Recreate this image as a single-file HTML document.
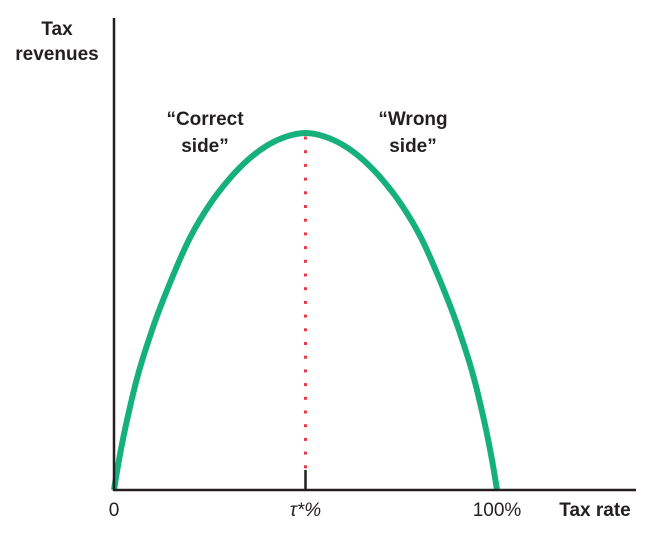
<!DOCTYPE html>
<html><head><meta charset="utf-8"><style>
body{margin:0;background:#fff}
svg text{font-family:"Liberation Sans",sans-serif;fill:#231f20}
.b{font-weight:bold;font-size:19px}
.n{font-size:19px}
</style></head><body>
<svg width="650" height="535">
<g id="marks"></g>
<line x1="114" y1="18" x2="114" y2="491" stroke="#231f20" stroke-width="2.5"/>
<line x1="113" y1="490" x2="636" y2="490" stroke="#231f20" stroke-width="2.5"/>
<text class="b" x="57" y="35" text-anchor="middle">Tax</text>
<text class="b" x="57" y="60" text-anchor="middle">revenues</text>
<text class="b" x="205" y="125" text-anchor="middle">“Correct</text>
<text class="b" x="205" y="152" text-anchor="middle">side”</text>
<text class="b" x="413" y="125" text-anchor="middle">“Wrong</text>
<text class="b" x="413" y="152" text-anchor="middle">side”</text>
<text class="b" x="595" y="516" text-anchor="middle">Tax rate</text>
<g id="ticks"></g>
</svg>
<script>
const rates=[0,5,10,15,20,25,30,35,40,45,50,55,60,65,70,75,80,85,90,95,100];
const revenues=[0,27,45,59,71,80,87,92.5,96.5,99,100,99,96.5,92.5,87,80,71,59,45,27,0];
const tickLabels=["0","τ*%","100%"];
const tickRates=[0,50,100];
const peakRate=50;
const xs=r=>114+r*(497-114)/100;
const ys=v=>490-v*(490-133)/100;
const NS="http://www.w3.org/2000/svg";
const marks=document.getElementById('marks');
const pts=rates.map((r,i)=>[xs(r),ys(revenues[i])]);
let d="M"+pts[0][0]+","+pts[0][1];
for(let i=0;i<pts.length-1;i++){
 const p1=pts[i],p2=pts[i+1];
 const p0=i>0?pts[i-1]:[2*p1[0]-p2[0],p1[1]+ (p1[1]-p2[1])*1.6];
 const p3=i+2<pts.length?pts[i+2]:[2*p2[0]-p1[0],p2[1]+(p2[1]-p1[1])*1.6];
 const c1=[p1[0]+(p2[0]-p0[0])/6,p1[1]+(p2[1]-p0[1])/6];
 const c2=[p2[0]-(p3[0]-p1[0])/6,p2[1]-(p3[1]-p1[1])/6];
 d+=` C${c1[0]},${c1[1]} ${c2[0]},${c2[1]} ${p2[0]},${p2[1]}`;
}
const pk=xs(peakRate),pv=ys(revenues[rates.indexOf(peakRate)]);
for(let y=pv+5;y<470;y+=13.7){
 const c=document.createElementNS(NS,'rect');
 c.setAttribute('x',pk-1.5);c.setAttribute('y',y-1.5);c.setAttribute('width',3);c.setAttribute('height',3);c.setAttribute('fill','#e8394a');
 
 
 marks.appendChild(c);
}
const t=document.createElementNS(NS,'line');
t.setAttribute('x1',pk);t.setAttribute('x2',pk);t.setAttribute('y1',470);t.setAttribute('y2',490);t.setAttribute('stroke','#231f20');t.setAttribute('stroke-width','2.5');


marks.appendChild(t);
const path=document.createElementNS(NS,'path');
path.setAttribute('d',d);path.setAttribute('fill','none');path.setAttribute('stroke','#16b07a');path.setAttribute('stroke-width','6');


marks.appendChild(path);
const tk=document.getElementById('ticks');
tickRates.forEach((r,i)=>{
 const e=document.createElementNS(NS,'text');
 e.setAttribute('x',xs(r));e.setAttribute('y',516);e.setAttribute('text-anchor','middle');e.setAttribute('class','n');
 e.textContent=tickLabels[i];
 if(tickLabels[i].startsWith('τ')){e.setAttribute('font-style','italic');}
 
 
 tk.appendChild(e);
});
</script>
</body></html>
